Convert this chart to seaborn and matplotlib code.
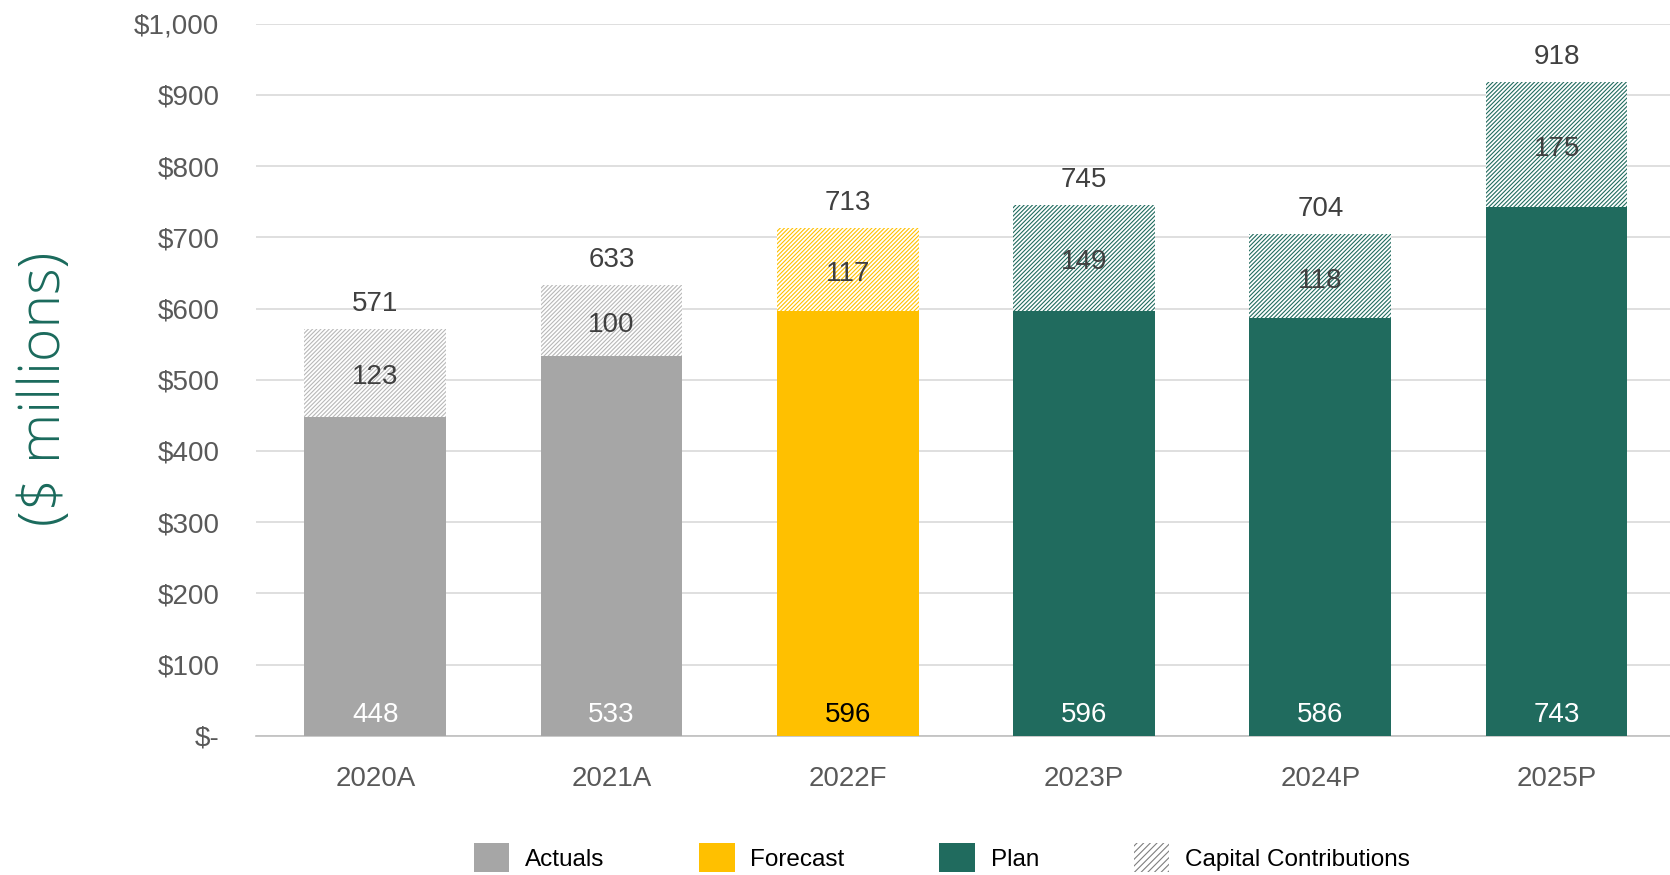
import matplotlib
matplotlib.use("Agg")
import matplotlib.pyplot as plt
from matplotlib.patches import Patch
from matplotlib.ticker import FuncFormatter
import seaborn as sns
import pandas as pd

# Capital spending by year ($ millions)
years = ["2020A", "2021A", "2022F", "2023P", "2024P", "2025P"]
base_spend = [448, 533, 596, 596, 586, 743]
capital_contrib = [123, 100, 117, 149, 118, 175]
stage = ["Actuals", "Actuals", "Forecast", "Plan", "Plan", "Plan"]

GRAY = "#A6A6A6"
YELLOW = "#FFC000"
TEAL = "#206B5E"
stage_colors = {"Actuals": GRAY, "Forecast": YELLOW, "Plan": TEAL}
hatch_colors = {"Actuals": "#B8B8B8", "Forecast": YELLOW, "Plan": TEAL}
inner_text = {"Actuals": "white", "Forecast": "black", "Plan": "white"}

totals = [b + c for b, c in zip(base_spend, capital_contrib)]
df = pd.DataFrame({"year": years, "base": base_spend, "contrib": capital_contrib,
                   "total": totals, "stage": stage})

sns.set_theme(style="white")
plt.rcParams["font.family"] = ["Liberation Sans", "DejaVu Sans"]
plt.rcParams["hatch.linewidth"] = 0.8

fig = plt.figure(figsize=(16.7, 8.75), dpi=100)
ax = fig.add_axes([0.153, 0.159, 0.847, 0.814])

# Full-height hatched bars (capital contributions sit on top of the base bars)
sns.barplot(data=df, x="year", y="total", order=years, color="white",
            saturation=1, width=0.6, errorbar=None, ax=ax, zorder=2)
for patch, st in zip(ax.patches, df["stage"]):
    patch.set_facecolor("white")
    patch.set_edgecolor(hatch_colors[st])
    patch.set_hatch("////////")
    patch.set_linewidth(0)
n_hatched = len(ax.patches)

# Solid base bars
sns.barplot(data=df, x="year", y="base", hue="stage", order=years,
            palette=stage_colors, saturation=1, dodge=False, width=0.6,
            errorbar=None, legend=False, ax=ax, zorder=3)
for patch in ax.patches[n_hatched:]:
    patch.set_linewidth(0)

label_color = "#404040"
for i, row in df.iterrows():
    ax.annotate(f"{row['base']}", xy=(i, 35), xytext=(0, -3),
                textcoords="offset points", ha="center", va="center",
                fontsize=20, color=inner_text[row["stage"]], zorder=5)
    ax.annotate(f"{row['contrib']}", xy=(i, row["base"] + row["contrib"] / 2),
                xytext=(0, -3), textcoords="offset points", ha="center",
                va="center", fontsize=20, color=label_color, zorder=5)
    ax.annotate(f"{row['total']}", xy=(i, row["total"]), xytext=(0, 18),
                textcoords="offset points", ha="center", va="center",
                fontsize=20, color=label_color, zorder=5)

ax.set_ylim(0, 1000)
ax.set_xlim(-0.507, 5.48)
ax.set_yticks(range(0, 1001, 100))
ax.yaxis.set_major_formatter(FuncFormatter(
    lambda v, _: "$-" if v == 0 else f"${v:,.0f}"))
ax.grid(axis="y", color="#D9D9D9", linewidth=1.2, zorder=0)
ax.set_axisbelow(True)
for side in ["top", "right", "left"]:
    ax.spines[side].set_visible(False)
ax.spines["bottom"].set_color("#BFBFBF")
ax.spines["bottom"].set_linewidth(1.2)
ax.tick_params(axis="both", length=0, labelsize=20, colors="#595959")
ax.tick_params(axis="x", pad=22)
ax.tick_params(axis="y", pad=26)
ax.set_xlabel("")
ax.set_ylabel("")

fig.text(0.027, 0.555, "($ millions)", rotation=90, ha="center", va="center",
         fontsize=41, color="#1A6A5C", family=["Open Sans", "DejaVu Sans"],
         fontweight="light")

handles = [
    Patch(facecolor=GRAY, edgecolor="none", label="Actuals"),
    Patch(facecolor=YELLOW, edgecolor="none", label="Forecast"),
    Patch(facecolor=TEAL, edgecolor="none", label="Plan"),
    Patch(facecolor="white", edgecolor="#7F7F7F", hatch="/////", linewidth=0,
          label="Capital Contributions"),
]
fig.legend(handles=handles, loc="center", bbox_to_anchor=(0.564, 0.02),
           ncol=4, frameon=False, fontsize=17.5, handlelength=1.45,
           handleheight=1.45, handletextpad=0.65, columnspacing=3.9,
           labelcolor="black")

fig.savefig("out.png", dpi=100)
